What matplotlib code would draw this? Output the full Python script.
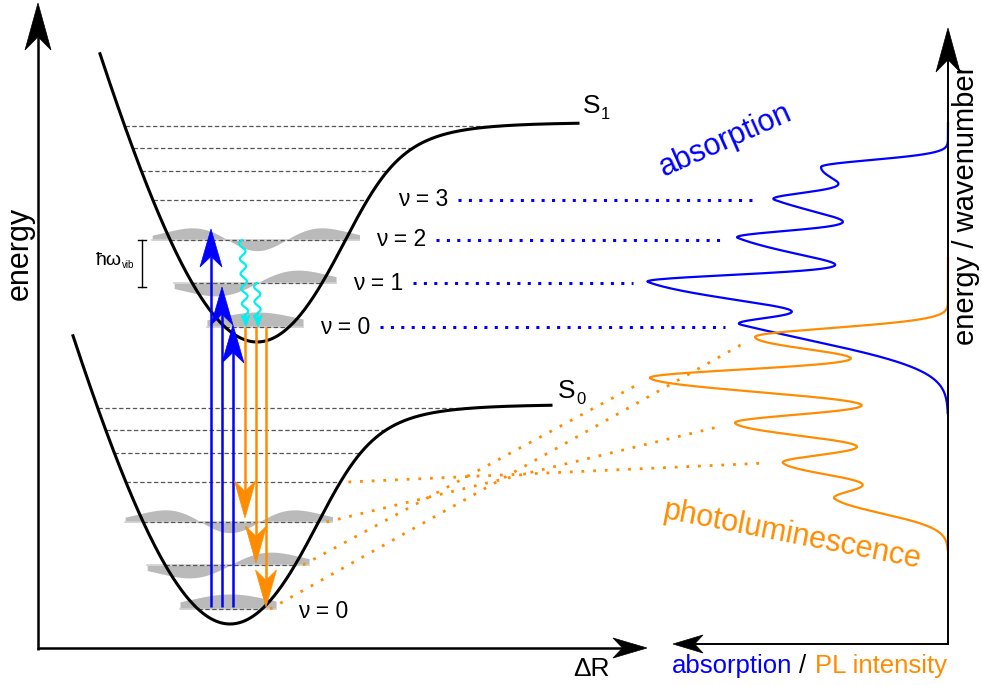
import math
import numpy as np
import matplotlib.pyplot as plt
from matplotlib.patches import Polygon

plt.rcParams['font.family'] = ['Liberation Sans', 'DejaVu Sans']

# everything is in picture pixels: x to the right, y downwards

# potential wells S1 / S0 (position of the minimum)
s1_min = (257, 342)
s0_min = (230, 624)
well_depth = 220
well_span = (-157, 321)
# vibrational levels, height above the minimum of the well
level_height = [15, 59, 102, 142, 171, 194, 216]

# vertical transitions
abs_x = [211, 222, 233]
abs_tip = [229, 287, 325]
pl_x = [245, 256, 266]
pl_tip = [518, 563, 607]
relax_x = [(242, 246), (257, 258)]
relax_level = [2, 1]

# spectra: peak position (energy) and peak intensity
abs_peak_y = [325, 282, 238, 200, 167]
abs_peak_int = [206, 300, 210, 173, 127]
pl_peak_y = [337, 378, 423, 463, 499]
pl_peak_int = [193, 298, 213, 165, 113]
nu_labels = ['ν = 0', 'ν = 1', 'ν = 2', 'ν = 3']

BLUE = '#0000ff'
ORANGE = '#ff8c00'
CYAN = '#00f0f0'
base_x = 948

slope, rnd = 4.0, 135.0


def height(dx):
    core = slope * (np.sqrt(dx**2 + rnd**2) - rnd)
    core = np.maximum(core, 1e-6)
    sat = (core**-3 + well_depth**-3.0) ** (-1 / 3)
    return np.where(dx < 0, core, sat)


def turning(h):
    left = -np.sqrt((h / slope + rnd)**2 - rnd**2)
    c = (h**-3.0 - well_depth**-3.0) ** (-1 / 3)
    right = np.sqrt((c / slope + rnd)**2 - rnd**2)
    return left, right


def psi(n, xi):
    H = [np.ones_like(xi), 2 * xi, 4 * xi**2 - 2][n]
    return H * np.exp(-xi**2 / 2) / np.sqrt(2**n * math.factorial(n)) * np.pi**-0.25


def line_shape(d, s_top, s_bot):
    s = np.where(d < 0, s_top, s_bot)
    return np.exp(-d**2 / (2 * s**2))


def spectrum(y, peak_y, peak_int, s_top, s_bot):
    py = np.array(peak_y, float)
    M = line_shape(py[:, None] - py[None, :], s_top, s_bot)
    amp = np.linalg.solve(M, np.array(peak_int, float))
    return line_shape(y[:, None] - py[None, :], s_top, s_bot) @ amp


def arrow(ax, x0, y0, x1, y1, color, lw, hl, hw, notch=0.28, z=5):
    d = np.array([x1 - x0, y1 - y0], float)
    u = d / np.hypot(*d)
    n = np.array([-u[1], u[0]])
    tip = np.array([x1, y1], float)
    base = tip - u * hl
    back = tip - u * hl * (1 - notch)
    ax.plot([x0, back[0]], [y0, back[1]], color=color, lw=lw,
            solid_capstyle='butt', zorder=z)
    ax.add_patch(Polygon([tip, base + n * hw, back, base - n * hw], closed=True,
                         fc=color, ec=color, lw=0.5, zorder=z))


def wavy(ax, x0, y0, x1, y1, color):
    L = np.hypot(x1 - x0, y1 - y0)
    ux, uy = (x1 - x0) / L, (y1 - y0) / L
    s = np.linspace(0, L - 10, 300)
    w = 3 * np.sin(2 * np.pi * s / 15)
    ax.plot(x0 + ux * s - uy * w, y0 + uy * s + ux * w, color=color, lw=1.6, zorder=6)
    arrow(ax, x1 - ux * 13, y1 - uy * 13, x1, y1, color, 1.2, 12, 4.5, z=6)


fig = plt.figure(figsize=(9.82, 6.86), dpi=100)
ax = fig.add_axes([0, 0, 1, 1])
ax.set_xlim(0, 982)
ax.set_ylim(686, 0)
ax.axis('off')

# wells, levels and wavefunctions
turn = {}
for key, (xm, ym) in [('S1', s1_min), ('S0', s0_min)]:
    dx = np.linspace(*well_span, 800)
    ax.plot(xm + dx, ym - height(dx), color='k', lw=2.2, zorder=4)
    turn[key] = []
    for i, h in enumerate(level_height):
        l, r = turning(h)
        y = ym - h
        turn[key].append((xm + l, xm + r, y))
        if i < 3:
            xs = np.linspace(xm + l - 18, xm + r + 14, 300)
            ax.fill_between(xs, y, y - 20 * psi(i, (xs - xm) / 41),
                            color='#bababa', lw=0, zorder=1)
            ax.plot([xs[0], xs[-1]], [y, y], color='#d2d2d2', lw=1.2, zorder=1.5)
        ax.plot([xm + l, xm + r], [y, y], color='#555555', lw=0.9,
                dashes=(3.5, 2), zorder=2)

ax.text(583, 113, 'S', fontsize=19, ha='left', va='baseline')
ax.text(601, 119, '1', fontsize=12, ha='left', va='baseline')
ax.text(558, 398, 'S', fontsize=19, ha='left', va='baseline')
ax.text(576, 404, '0', fontsize=12, ha='left', va='baseline')

# transitions
y_s0 = turn['S0'][0][2] - 2
for x, t in zip(abs_x, abs_tip):
    arrow(ax, x, y_s0, x, t, BLUE, 1.8, 38, 11)
y_s1 = turn['S1'][0][2]
for x, t in zip(pl_x, pl_tip):
    arrow(ax, x, y_s1, x, t, ORANGE, 1.8, 37, 10.5)
for (xa, xb), lv in zip(relax_x, relax_level):
    wavy(ax, xa, turn['S1'][lv][2], xb, y_s1, CYAN)

# hbar omega bracket
y2, y1 = turn['S1'][2][2], turn['S1'][1][2] + 4
ax.plot([142, 142], [y2, y1], color='k', lw=1.0)
ax.plot([138, 146], [y2, y2], color='k', lw=1.0)
ax.plot([138, 146], [y1, y1], color='k', lw=1.0)
ax.text(122, 265, 'ħω', fontsize=14, ha='right', va='baseline')
ax.text(122, 268, 'vib', fontsize=7, ha='left', va='baseline')

# spectra
ya = np.linspace(123, 413, 800)
ia = spectrum(ya, abs_peak_y, abs_peak_int, 7, 25)
ax.plot(base_x - ia, ya, color=BLUE, lw=1.6, zorder=5)
yp = np.linspace(258, 550, 800)
ip = spectrum(yp, pl_peak_y, pl_peak_int, 9, 15)
ax.plot(base_x - ip, yp, color=ORANGE, lw=1.6, zorder=5)


def apex(ys, inten, py):
    m = np.abs(ys - py) < 7
    k = np.argmax(inten[m])
    return base_x - inten[m][k], ys[m][k]


# absorption guide lines
for i, lab in enumerate(nu_labels):
    l, r, y = turn['S1'][i]
    ax.text(r + 81, y, lab, fontsize=16.5, ha='right', va='center')
    ax_, _ = apex(ya, ia, abs_peak_y[i])
    ax.plot([r + 91, ax_ - 14], [y, y], color=BLUE, lw=2.2, dashes=(1, 2.4))

# photoluminescence guide lines
for i in range(4):
    l, r, y = turn['S0'][i]
    px, py = apex(yp, ip, pl_peak_y[i])
    x0, y0 = r + 8, y
    d = np.hypot(px - x0, py - y0)
    k = (d - 16) / d
    ax.plot([x0, x0 + (px - x0) * k], [y0, y0 + (py - y0) * k],
            color=ORANGE, lw=2.0, dashes=(1, 3.2))
ax.text(298, 612, nu_labels[0], fontsize=16.5, ha='left', va='center')

ax.text(726, 140, 'absorption', fontsize=22, color=BLUE, rotation=24,
        ha='center', va='center', rotation_mode='anchor')
ax.text(792, 535, 'photoluminescence', fontsize=22, color=ORANGE, rotation=-11,
        ha='center', va='center', rotation_mode='anchor')

# axes
arrow(ax, 38, 650, 38, 3, 'k', 1.8, 47, 13)
arrow(ax, 37, 648, 647, 648, 'k', 1.8, 34, 10)
arrow(ax, 948, 645, 948, 28, 'k', 1.4, 44, 12)
arrow(ax, 948, 644, 673, 644, 'k', 1.4, 30, 9)
ax.text(20, 253, 'energy', fontsize=22, rotation=90, ha='center', va='center')
ax.text(966, 205, 'energy / wavenumber', fontsize=21, rotation=90,
        ha='center', va='center')
ax.text(610, 676, 'ΔR', fontsize=19, ha='right', va='baseline')
ax.text(672, 673, 'absorption', fontsize=18.5, color=BLUE, ha='left', va='baseline')
ax.text(803, 673, '/', fontsize=18.5, color='k', ha='center', va='baseline')
ax.text(947, 673, 'PL intensity', fontsize=18.5, color=ORANGE, ha='right', va='baseline')

fig.savefig('out.png', dpi=100)
